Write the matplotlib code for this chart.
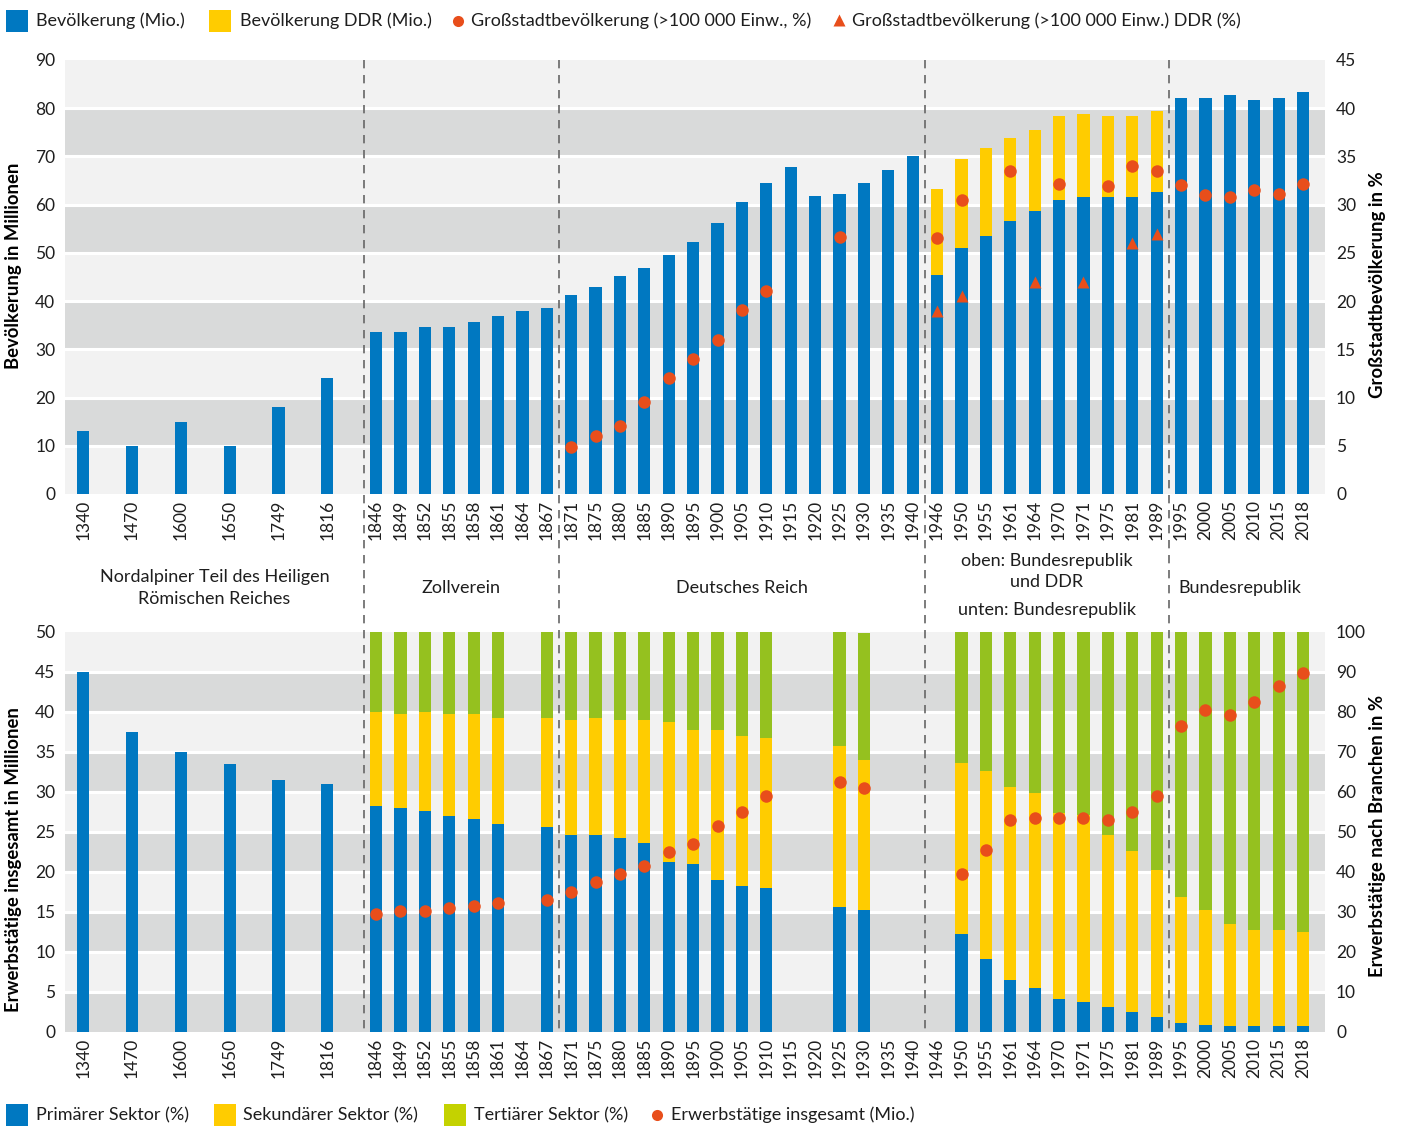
import matplotlib
matplotlib.use('Agg')
import matplotlib.pyplot as plt
import numpy as np
from matplotlib.lines import Line2D
from matplotlib.patches import Rectangle
import matplotlib.transforms as mtrans

plt.rcParams['font.family'] = ['Lato', 'DejaVu Sans']

# ---------------- data ----------------
years = ['1340', '1470', '1600', '1650', '1749', '1816',
         '1846', '1849', '1852', '1855', '1858', '1861', '1864', '1867',
         '1871', '1875', '1880', '1885', '1890', '1895', '1900', '1905', '1910',
         '1915', '1920', '1925', '1930', '1935', '1940',
         '1946', '1950', '1955', '1961', '1964', '1970', '1971', '1975', '1981', '1989',
         '1995', '2000', '2005', '2010', '2015', '2018']

# population (Mio.) – for 1946-1989 Bundesrepublik
population = [13, 10, 15, 10, 18, 24,
              33.6, 33.6, 34.6, 34.6, 35.7, 36.9, 38.0, 38.6,
              41.3, 42.9, 45.2, 46.9, 49.6, 52.3, 56.2, 60.6, 64.5,
              67.8, 61.8, 62.2, 64.5, 67.2, 70.1,
              45.4, 51.1, 53.4, 56.7, 58.7, 61.0, 61.6, 61.6, 61.6, 62.7,
              82.2, 82.2, 82.8, 81.8, 82.2, 83.4]

# population DDR (Mio.)
population_ddr = [None] * 29 + [17.9, 18.4, 18.4, 17.2, 16.8, 17.3, 17.2, 16.8, 16.8, 16.8] + [None] * 6

# share of population in cities >100 000 (%)
city_share = [None] * 14 + [4.9, 6.0, 7.0, 9.5, 12.0, 14.0, 16.0, 19.1, 21.1,
                            None, None, 26.6, None, None, None,
                            26.5, 30.5, None, 33.5, None, 32.1, None, 31.9, 34.0, 33.5,
                            32.0, 31.0, 30.8, 31.5, 31.1, 32.1]

# share of population in cities >100 000, DDR (%)
city_share_ddr = [None] * 29 + [19.0, 20.5, None, None, 22.0, None, 22.0, None, 26.0, 27.0] + [None] * 6

# employment by sector (%)
primary = [90, 75, 70, 67, 63, 62,
           56.5, 56.0, 55.3, 54.0, 53.3, 52.0, None, 51.3,
           49.2, 49.2, 48.5, 47.2, 42.5, 42.0, 37.9, 36.4, 35.9,
           None, None, 31.2, 30.4, None, None,
           None, 24.4, 18.3, 13.1, 11.1, 8.3, 7.5, 6.3, 5.0, 3.8,
           2.3, 1.8, 1.5, 1.5, 1.5, 1.5]

secondary = [None] * 6 + [23.4, 23.4, 24.7, 25.4, 26.1, 26.6, None, 27.3,
                          28.7, 29.4, 29.4, 30.7, 34.9, 33.4, 37.5, 37.5, 37.5,
                          None, None, 40.2, 37.7, None, None,
                          None, 42.9, 47.0, 48.2, 48.7, 46.4, 46.8, 42.9, 40.2, 36.7,
                          31.4, 28.6, 25.6, 24.1, 24.1, 23.6]

tertiary = [None] * 6 + [20.1, 20.6, 20.0, 20.6, 20.6, 21.4, None, 21.4,
                         22.1, 21.4, 22.1, 22.1, 22.6, 24.6, 24.6, 26.1, 26.6,
                         None, None, 28.6, 31.6, None, None,
                         None, 32.7, 34.7, 38.7, 40.2, 45.3, 45.7, 50.8, 54.8, 59.5,
                         66.3, 69.6, 72.9, 74.4, 74.4, 74.9]

# total employed persons (Mio.)
employed = [None] * 6 + [14.8, 15.1, 15.1, 15.45, 15.8, 16.1, None, 16.45,
                         17.5, 18.8, 19.8, 20.8, 22.5, 23.5, 25.8, 27.5, 29.5,
                         None, None, 31.2, 30.5, None, None,
                         None, 19.8, 22.8, 26.5, 26.8, 26.8, 26.8, 26.5, 27.5, 29.5,
                         38.2, 40.2, 39.6, 41.2, 43.3, 44.9]

regions = ['Nordalpiner Teil des Heiligen\nRömischen Reiches', 'Zollverein',
           'Deutsches Reich', 'oben: Bundesrepublik\nund DDR', 'Bundesrepublik']
region_start = [0, 6, 14, 29, 39]

# ---------------- styles ----------------
BLUE = '#0078c1'
YELLOW = '#ffcc00'
GREEN = '#95c11f'
GREEN_LEG = '#c4d200'
RED = '#e84e1b'
LIGHT = '#f2f2f2'
DARK = '#d9dada'
TXT = '#1e1e1e'

W, H = 1403, 1126
fig = plt.figure(figsize=(W / 100, H / 100), dpi=100)


def fx(x):
    return x / W


def fy(y):
    return 1 - y / H


def arr(v):
    return np.array([np.nan if a is None else a for a in v], dtype=float)


pos = np.array([2 * i if i < 6 else i + 6 for i in range(len(years))], dtype=float)
XLIM = (-0.75, 50.9)
BW = 0.5

ax_t = fig.add_axes([fx(65), fy(494), fx(1325) - fx(65), fy(60) - fy(494)])
ax_b = fig.add_axes([fx(65), fy(1032), fx(1325) - fx(65), fy(632) - fy(1032)])

TICKFS = 12.5

# ---------------- top chart ----------------
for k in range(9):
    ax_t.axhspan(k * 10, (k + 1) * 10, color=LIGHT if k % 2 == 0 else DARK, lw=0, zorder=0)
for v in range(10, 90, 10):
    ax_t.axhline(v, color='white', lw=2.2, zorder=0.5)

p = arr(population)
pd_ = arr(population_ddr)
ax_t.bar(pos, p, width=BW, color=BLUE, zorder=2)
m = ~np.isnan(pd_)
ax_t.bar(pos[m], pd_[m], bottom=p[m], width=BW, color=YELLOW, zorder=2)

ax_t.set_xlim(*XLIM)
ax_t.set_ylim(0, 90)
ax_t.set_yticks(range(0, 91, 10))
ax_t.set_xticks(pos)
ax_t.set_xticklabels(years, rotation=90)
ax_t.tick_params(length=0, labelsize=TICKFS, colors=TXT)
ax_t.tick_params(axis='y', pad=7)
ax_t.tick_params(axis='x', pad=4)
for s in ax_t.spines.values():
    s.set_visible(False)

ax_t2 = ax_t.twinx()
ax_t2.set_ylim(0, 45)
ax_t2.set_yticks(range(0, 46, 5))
cs = arr(city_share)
csd = arr(city_share_ddr)
ax_t2.plot(pos, cs, 'o', color=RED, ms=9, mec='none', zorder=3)
ax_t2.plot(pos, csd, '^', color=RED, ms=9, mec='none', zorder=3)
ax_t2.tick_params(length=0, labelsize=TICKFS, colors=TXT, pad=8)
for s in ax_t2.spines.values():
    s.set_visible(False)

# ---------------- bottom chart ----------------
ax_b2 = ax_b.twinx()
ax_b.set_zorder(ax_b2.get_zorder() + 1)
ax_b.patch.set_visible(False)

for k in range(10):
    ax_b2.axhspan(k * 10, (k + 1) * 10, color=DARK if k % 2 == 0 else LIGHT, lw=0, zorder=0)
for v in range(10, 100, 10):
    ax_b2.axhline(v, color='white', lw=2.2, zorder=0.5)

pr = arr(primary)
se = arr(secondary)
te = arr(tertiary)
ax_b2.bar(pos, pr, width=BW, color=BLUE, zorder=2)
m2 = ~np.isnan(se)
ax_b2.bar(pos[m2], se[m2], bottom=pr[m2], width=BW, color=YELLOW, zorder=2)
ax_b2.bar(pos[m2], te[m2], bottom=pr[m2] + se[m2], width=BW, color=GREEN, zorder=2)
ax_b2.set_ylim(0, 100)
ax_b2.set_yticks(range(0, 101, 10))
ax_b2.tick_params(length=0, labelsize=TICKFS, colors=TXT, pad=8)

em = arr(employed)
ax_b.plot(pos, em, 'o', color=RED, ms=9, mec='none', zorder=3)
ax_b.set_ylim(0, 50)
ax_b.set_yticks(range(0, 51, 5))
ax_b.set_xlim(*XLIM)
ax_b.set_xticks(pos)
ax_b.set_xticklabels(years, rotation=90)
ax_b.tick_params(length=0, labelsize=TICKFS, colors=TXT)
ax_b.tick_params(axis='y', pad=7)
ax_b.tick_params(axis='x', pad=4)
for a in (ax_b, ax_b2):
    for s in a.spines.values():
        s.set_visible(False)

# ---------------- separators ----------------
blend = mtrans.blended_transform_factory(ax_t.transData, fig.transFigure)
for idx in region_start[1:]:
    xs = pos[idx] - 0.5
    fig.add_artist(Line2D([xs, xs], [fy(60), fy(1032)], transform=blend,
                          color='#666666', lw=1.2, ls=(0, (5, 4)), zorder=5))

# region labels
RFS = 13
bounds = [XLIM[0]] + [pos[i] - 0.5 for i in region_start[1:]] + [XLIM[1]]
for i, name in enumerate(regions):
    xc = (bounds[i] + bounds[i + 1]) / 2
    if i == 3:
        fig.text(xc, fy(571.5), name, transform=blend, ha='center', va='center',
                 fontsize=RFS, color=TXT, linespacing=1.45)
        fig.text(xc, fy(610), 'unten: Bundesrepublik', transform=blend, ha='center',
                 va='center', fontsize=RFS, color=TXT)
    else:
        if i == 4:
            xc -= 0.3
        fig.text(xc, fy(588), name, transform=blend, ha='center', va='center',
                 fontsize=RFS, color=TXT, linespacing=1.4)

# axis titles
LFS = 13.3
fig.text(fx(14), fy(266), 'Bevölkerung in Millionen', rotation=90, ha='center', va='center',
         fontsize=LFS, fontweight='bold', color='black')
fig.text(fx(1377), fy(285), 'Großstadtbevölkerung in %', rotation=90, ha='center', va='center',
         fontsize=LFS, fontweight='bold', color='black')
fig.text(fx(14), fy(860), 'Erwerbstätige insgesamt in Millionen', rotation=90, ha='center',
         va='center', fontsize=LFS, fontweight='bold', color='black')
fig.text(fx(1377), fy(836), 'Erwerbstätige nach Branchen in %', rotation=90, ha='center',
         va='center', fontsize=LFS, fontweight='bold', color='black')

# ---------------- legends ----------------
LEGFS = 13


def sq(x, y, c):
    fig.add_artist(Rectangle((fx(x), fy(y + 11)), fx(22), 22 / H, transform=fig.transFigure,
                             color=c, lw=0))


def mk(x, y, marker):
    fig.add_artist(Line2D([fx(x)], [fy(y)], marker=marker, color=RED, ms=8, mec='none',
                          transform=fig.transFigure, ls='none'))


def tx(x, y, s):
    fig.text(fx(x), fy(y), s, ha='left', va='center', fontsize=LEGFS, color=TXT)


ly = 21
sq(6, ly, BLUE)
tx(36, ly, 'Bevölkerung (Mio.)')
sq(209, ly, YELLOW)
tx(240, ly, 'Bevölkerung DDR (Mio.)')
mk(458, ly, 'o')
tx(471, ly, 'Großstadtbevölkerung (>100 000 Einw., %)')
mk(839, ly - 1, '^')
tx(852, ly, 'Großstadtbevölkerung (>100 000 Einw.) DDR (%)')

ly2 = 1115
sq(6, ly2, BLUE)
tx(36, ly2, 'Primärer Sektor (%)')
sq(214, ly2, YELLOW)
tx(243, ly2, 'Sekundärer Sektor (%)')
sq(444, ly2, GREEN_LEG)
tx(474, ly2, 'Tertiärer Sektor (%)')
mk(657, ly2, 'o')
tx(671, ly2, 'Erwerbstätige insgesamt (Mio.)')

fig.savefig('out.png', dpi=100)
